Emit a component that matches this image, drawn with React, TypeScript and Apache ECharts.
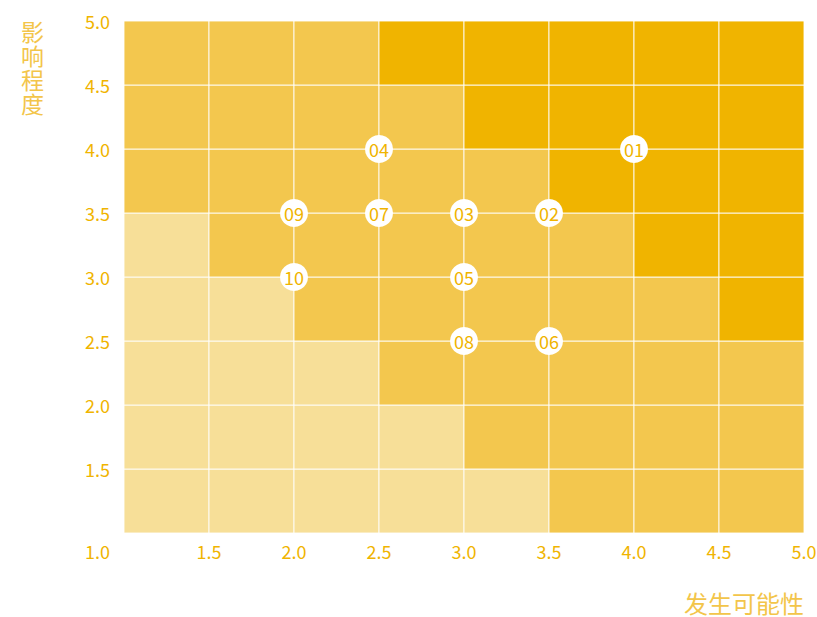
import React, { useEffect, useRef } from "react";
import * as echarts from "echarts";

const xTicks = [1.0, 1.5, 2.0, 2.5, 3.0, 3.5, 4.0, 4.5, 5.0];
// row levels from bottom (y 1.0-1.5) to top (y 4.5-5.0); 0 light, 1 medium, 2 dark
const levelRows: number[][] = [
  [0, 0, 0, 0, 0, 1, 1, 1],
  [0, 0, 0, 0, 1, 1, 1, 1],
  [0, 0, 0, 1, 1, 1, 1, 1],
  [0, 0, 1, 1, 1, 1, 1, 2],
  [0, 1, 1, 1, 1, 1, 2, 2],
  [1, 1, 1, 1, 1, 2, 2, 2],
  [1, 1, 1, 1, 2, 2, 2, 2],
  [1, 1, 1, 2, 2, 2, 2, 2],
];
const levelColors = ["#F7DF98", "#F3C74E", "#F0B400"];
const riskNames = ["01", "02", "03", "04", "05", "06", "07", "08", "09", "10"];
const riskX = [4.0, 3.5, 3.0, 2.5, 3.0, 3.5, 2.5, 3.0, 2.0, 2.0];
const riskY = [4.0, 3.5, 3.5, 4.0, 3.0, 2.5, 3.5, 2.5, 3.5, 3.0];
const xName = "发生可能性";
const yName = "影\n响\n程\n度";

const labelColor = "#F0B400";
const nameColor = "#F3C54A";
const FONT = "'Noto Sans CJK SC', 'Noto Sans', sans-serif";

export default function App() {
  const ref = useRef<HTMLDivElement>(null);
  useEffect(() => {
    if (!ref.current) return;
    const chart = echarts.init(ref.current, null, { renderer: "svg" });
    const cells: number[][] = [];
    levelRows.forEach((row, r) => {
      row.forEach((lv, c) => {
        cells.push([xTicks[c], xTicks[r], lv]);
      });
    });
    chart.setOption({
      animation: false,
      textStyle: { fontFamily: FONT },
      grid: { left: 124, right: 13, top: 21, bottom: 84, containLabel: false, outerBoundsMode: "none" },
      graphic: [
        {
          type: "text",
          left: 21,
          top: 19,
          style: {
            text: yName,
            fill: nameColor,
            font: `23px ${FONT}`,
            lineHeight: 24,
          },
        },
        {
          type: "text",
          right: 13,
          top: 590,
          style: {
            text: xName,
            fill: nameColor,
            font: `24px ${FONT}`,
          },
        },
      ],
      xAxis: {
        type: "value",
        min: 1,
        max: 5,
        interval: 0.5,
        axisLine: { show: false },
        axisTick: { show: false },
        splitLine: { show: false },
        axisLabel: {
          color: labelColor,
          fontSize: 18,
          margin: 9,
          alignMinLabel: "right",
          formatter: (v: number) => (v === 1 ? "{m|1.0}" : v.toFixed(1)),
          rich: { m: { color: labelColor, fontSize: 18, padding: [0, 14, 0, 0] } },
        },
      },
      yAxis: {
        type: "value",
        min: 1,
        max: 5,
        interval: 0.5,
        axisLine: { show: false },
        axisTick: { show: false },
        splitLine: { show: false },
        axisLabel: {
          color: labelColor,
          fontSize: 18,
          margin: 14,
          showMinLabel: false,
          formatter: (v: number) => v.toFixed(1),
        },
      },
      series: [
        {
          type: "custom",
          data: cells,
          renderItem: (params: any, api: any) => {
            const x0 = api.value(0);
            const y0 = api.value(1);
            const p0 = api.coord([x0, y0]);
            const p1 = api.coord([x0 + 0.5, y0 + 0.5]);
            return {
              type: "rect",
              shape: {
                x: p0[0],
                y: p1[1],
                width: p1[0] - p0[0],
                height: p0[1] - p1[1],
              },
              style: {
                fill: levelColors[api.value(2)],
                stroke: "#FFFFFF",
                lineWidth: 1,
                strokeOpacity: 0.85,
              },
            };
          },
          encode: { x: 0, y: 1 },
          z: 1,
        },
        {
          type: "scatter",
          data: riskNames.map((n, i) => ({ name: n, value: [riskX[i], riskY[i]] })),
          symbolSize: 28,
          itemStyle: { color: "#FFFFFF", opacity: 1 },
          label: {
            show: true,
            position: "inside",
            formatter: (p: any) => p.name,
            color: labelColor,
            fontSize: 18,
            fontFamily: FONT,
          },
          z: 3,
        },
      ],
    });
    return () => chart.dispose();
  }, []);
  return (
    <div
      ref={ref}
      style={{ position: "absolute", left: 0, top: 0, width: 817, height: 617 }}
    />
  );
}
